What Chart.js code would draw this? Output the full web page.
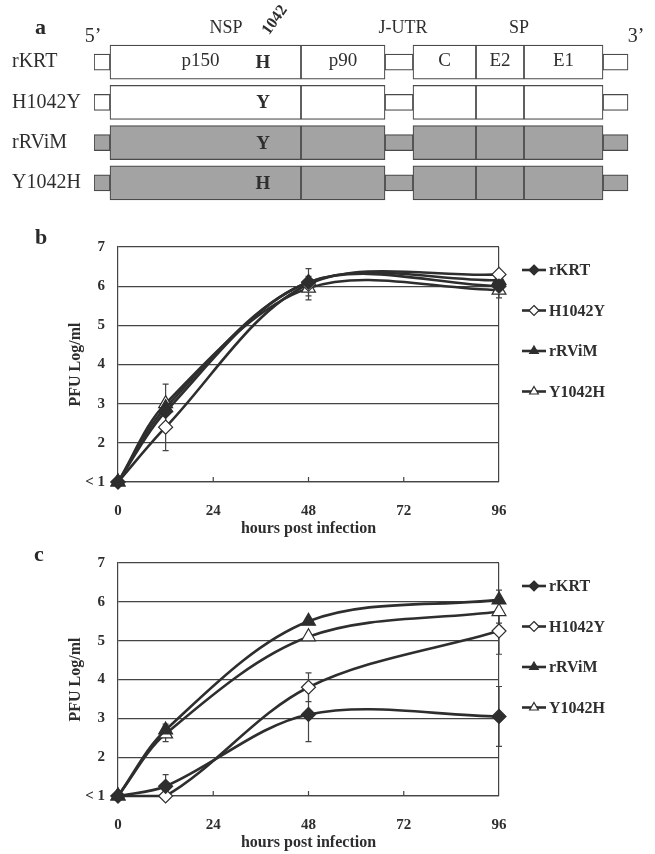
<!DOCTYPE html>
<html>
<head>
<meta charset="utf-8">
<script src="https://cdn.jsdelivr.net/npm/chart.js@4.4.1/dist/chart.umd.min.js"></script>
<style>
  html, body { margin: 0; padding: 0; background: #fff; }
  #page { position: relative; width: 655px; height: 854px; overflow: hidden;
          font-family: 'Liberation Serif', 'DejaVu Serif', serif; color: #2a2a2a; }
  .panel { position: absolute; left: 0; width: 655px; }
  .tag { position: absolute; font-weight: bold; font-size: 22px; line-height: 1; }
</style>
</head>
<body>
<div id="page">
  <div class="panel" style="top:0;height:215px"><canvas id="chart-map"></canvas></div>
  <div class="panel" style="top:225px;height:315px"><canvas id="chart-b"></canvas></div>
  <div class="panel" style="top:541px;height:313px"><canvas id="chart-c"></canvas></div>
  <div class="tag" style="left:35px;top:16px">a</div>
  <div class="tag" style="left:35px;top:226px">b</div>
  <div class="tag" style="left:34px;top:543px">c</div>
</div>

<script>
// ---- panel a: genome map (diagram units) ----
const rows = ['rKRT', 'H1042Y', 'rRViM', 'Y1042H'];
const residue1042 = ['H', 'Y', 'Y', 'H'];
const rowShaded = [false, false, true, true];
const segNames = ['5\u2019 UTR', 'p150', 'p90', 'J-UTR', 'C', 'E2', 'E1', '3\u2019 UTR'];
const segStart = [0, 16, 207, 291, 319, 382, 430, 509];
const segEnd = [16, 207, 291, 319, 382, 430, 509, 534];
const segIsUtr = [true, false, false, true, false, false, false, true];
const segText = ['', 'p150', 'p90', '', 'C', 'E2', 'E1', ''];
const regionText = ['5\u2019', 'NSP', 'J-UTR', 'SP', '3\u2019'];
const regionAt = [-1, 132, 309, 425, 542];
const site1042 = 169;

// ---- panels b and c: growth curves ----
const hours = [0, 12, 48, 96];
const hourTicks = [0, 24, 48, 72, 96];
const strains = ['rKRT', 'H1042Y', 'rRViM', 'Y1042H'];

const bKRT = [1, 2.8, 6.1, 6.0];
const bH1042Y = [1, 2.4, 6.05, 6.3];
const bRViM = [1, 2.9, 6.1, 6.15];
const bY1042H = [1, 3.0, 5.95, 5.9];
const bKRTErr = [0, 0, 0.35, 0];
const bH1042YErr = [0, 0.6, 0, 0];
const bRViMErr = [0, 0, 0, 0];
const bY1042HErr = [0, 0.5, 0.3, 0.2];

const cKRT = [1, 1.25, 3.1, 3.05];
const cH1042Y = [1, 1.0, 3.8, 5.25];
const cRViM = [1, 2.7, 5.5, 6.05];
const cY1042H = [1, 2.6, 5.1, 5.75];
const cKRTErr = [0, 0.3, 0.7, 0.77];
const cH1042YErr = [0, 0, 0.37, 0.6];
const cRViMErr = [0, 0.15, 0, 0.25];
const cY1042HErr = [0, 0.2, 0, 0.3];

const ink = '#2e2e2e';
const serif = "'Liberation Serif', 'DejaVu Serif', serif";
const markerStyle = ['rectRot', 'rectRot', 'triangle', 'triangle'];
const markerFilled = [true, false, true, false];
const markerRadius = [7, 7, 8, 8];

// text drawn on top of the genome map
const mapText = {
  id: 'mapText',
  afterDatasetsDraw(chart) {
    const { ctx, chartArea } = chart;
    const x = chart.scales.x, y = chart.scales.y;
    ctx.save();
    ctx.fillStyle = ink;
    ctx.textAlign = 'center';
    ctx.textBaseline = 'middle';
    ctx.font = '19px ' + serif;
    segText.forEach((t, k) => {
      if (!t) return;
      let cx = x.getPixelForValue((segStart[k] + segEnd[k]) / 2);
      if (k === 1) cx -= 5;
      ctx.fillText(t, cx, y.getPixelForValue(0) - 1);
    });
    ctx.font = 'bold 19px ' + serif;
    residue1042.forEach((r, i) => {
      ctx.fillText(r, x.getPixelForValue(site1042), y.getPixelForValue(i) + 1);
    });
    regionText.forEach((t, k) => {
      const end = t.indexOf('\u2019') >= 0;   // 5' / 3' sit a bit lower
      ctx.font = (end ? '20px ' : '18px ') + serif;
      ctx.fillText(t, x.getPixelForValue(regionAt[k]), chartArea.top - (end ? 5 : 14));
    });
    ctx.translate(x.getPixelForValue(site1042) + 12, chartArea.top - 22);
    ctx.rotate(-0.95);
    ctx.font = 'bold 16px ' + serif;
    ctx.fillText('1042', 0, 0);
    ctx.restore();
  }
};

new Chart(document.getElementById('chart-map'), {
  type: 'bar',
  data: {
    labels: rows,
    datasets: segNames.map((name, k) => ({
      label: name,
      data: rows.map(() => [segStart[k], segEnd[k]]),
      backgroundColor: rowShaded.map(s => (s ? '#a3a3a3' : '#ffffff')),
      borderColor: '#4a4a4a',
      borderWidth: 1.2,
      borderSkipped: false,
      barThickness: segIsUtr[k] ? 16 : 34,
      grouped: false
    }))
  },
  options: {
    indexAxis: 'y',
    responsive: true,
    maintainAspectRatio: false,
    animation: false,
    events: [],
    layout: { padding: { left: 12, right: 16, top: 42, bottom: 5 } },
    plugins: { legend: { display: false }, tooltip: { enabled: false } },
    scales: {
      x: { type: 'linear', min: 0, max: 545, display: false },
      y: {
        type: 'category',
        grid: { display: false },
        border: { display: false },
        ticks: { color: ink, font: { family: serif, size: 20 }, crossAlign: 'far', padding: 0 },
        afterFit: s => { s.width = 82; }
      }
    }
  },
  plugins: [mapText]
});

// vertical error bars with caps, read from dataset.errors
const errorBars = {
  id: 'errorBars',
  beforeDatasetsDraw(chart) {
    const { ctx } = chart;
    const x = chart.scales.x, y = chart.scales.y;
    ctx.save();
    ctx.strokeStyle = '#444';
    ctx.lineWidth = 1.2;
    chart.data.datasets.forEach(ds => {
      ds.data.forEach((p, i) => {
        const e = ds.errors[i];
        if (!e) return;
        const px = x.getPixelForValue(p.x);
        const t = y.getPixelForValue(p.y + e), b = y.getPixelForValue(p.y - e);
        ctx.beginPath();
        ctx.moveTo(px, t); ctx.lineTo(px, b);
        ctx.moveTo(px - 3, t); ctx.lineTo(px + 3, t);
        ctx.moveTo(px - 3, b); ctx.lineTo(px + 3, b);
        ctx.stroke();
      });
    });
    ctx.restore();
  }
};

// short inward tick marks on the x axis
const innerTicks = {
  id: 'innerTicks',
  afterDraw(chart) {
    const { ctx, chartArea } = chart;
    const x = chart.scales.x;
    ctx.save();
    ctx.strokeStyle = '#444';
    ctx.lineWidth = 1.2;
    x.ticks.forEach(t => {
      if (t.value === x.min || t.value === x.max) return;
      const px = x.getPixelForValue(t.value);
      ctx.beginPath();
      ctx.moveTo(px, chartArea.bottom);
      ctx.lineTo(px, chartArea.bottom - 5);
      ctx.stroke();
    });
    ctx.restore();
  }
};

function drawMarker(ctx, style, cx, cy, r) {
  ctx.beginPath();
  if (style === 'triangle') {
    ctx.moveTo(cx, cy - r);
    ctx.lineTo(cx + r * 0.87, cy + r * 0.5);
    ctx.lineTo(cx - r * 0.87, cy + r * 0.5);
  } else {
    ctx.moveTo(cx, cy - r);
    ctx.lineTo(cx + r, cy);
    ctx.lineTo(cx, cy + r);
    ctx.lineTo(cx - r, cy);
  }
  ctx.closePath();
  ctx.fill();
  ctx.stroke();
}

// legend to the right: line segment, marker, label
const sideLegend = {
  id: 'sideLegend',
  afterDraw(chart) {
    const { ctx, chartArea } = chart;
    ctx.save();
    chart.data.datasets.forEach((ds, i) => {
      const ly = chartArea.top + 23 + i * 40.5;
      const x0 = chartArea.right + 23;
      ctx.strokeStyle = ink;
      ctx.lineWidth = 2.6;
      ctx.beginPath();
      ctx.moveTo(x0, ly); ctx.lineTo(x0 + 24, ly);
      ctx.stroke();
      ctx.lineWidth = 1.2;
      ctx.fillStyle = ds.pointBackgroundColor;
      drawMarker(ctx, ds.pointStyle, x0 + 12, ly, 5);
      ctx.fillStyle = ink;
      ctx.font = 'bold 16px ' + serif;
      ctx.textAlign = 'left';
      ctx.textBaseline = 'middle';
      ctx.fillText(ds.label, x0 + 27, ly + 1);
    });
    ctx.restore();
  }
};

function growthChart(id, titers, errs) {
  const tickFont = { family: serif, size: 15, weight: 'bold' };
  return new Chart(document.getElementById(id), {
    type: 'line',
    data: {
      datasets: strains.map((name, i) => ({
        label: name,
        data: hours.map((h, j) => ({ x: h, y: titers[i][j] })),
        errors: errs[i],
        borderColor: ink,
        borderWidth: 2.6,
        tension: 0.33,
        fill: false,
        clip: false,
        pointStyle: markerStyle[i],
        pointRadius: markerRadius[i],
        pointBorderWidth: 1.2,
        pointBorderColor: ink,
        pointBackgroundColor: markerFilled[i] ? ink : '#ffffff'
      }))
    },
    options: {
      responsive: true,
      maintainAspectRatio: false,
      animation: false,
      events: [],
      layout: { padding: { left: 0, right: 156, top: 15, bottom: 0 } },
      plugins: { legend: { display: false }, tooltip: { enabled: false } },
      scales: {
        x: {
          type: 'linear', min: 0, max: 96,
          afterBuildTicks: s => { s.ticks = hourTicks.map(v => ({ value: v })); },
          ticks: { color: ink, font: tickFont, padding: 20 },
          grid: {
            drawTicks: false,
            lineWidth: 1.2,
            color: c => (c.tick && c.tick.value === 96 ? '#444' : 'rgba(0,0,0,0)')
          },
          border: { color: '#444', width: 1.2 },
          title: { display: true, text: 'hours post infection', color: ink,
                   font: { family: serif, size: 16, weight: 'bold' }, padding: { top: 0, bottom: 2 } },
          afterFit: s => { s.height = 58; }
        },
        y: {
          min: 1, max: 7,
          ticks: { stepSize: 1, color: ink, font: tickFont, padding: 13,
                   callback: v => (v === 1 ? '< 1' : v) },
          grid: { drawTicks: false, color: '#444', lineWidth: 1.2 },
          border: { color: '#444', width: 1.2 },
          title: { display: true, text: 'PFU Log/ml', color: ink,
                   font: { family: serif, size: 16, weight: 'bold' }, padding: { top: 66, bottom: 0 } },
          afterFit: s => { s.width = 118; }
        }
      }
    },
    plugins: [errorBars, innerTicks, sideLegend]
  });
}

growthChart('chart-b',
  [bKRT, bH1042Y, bRViM, bY1042H],
  [bKRTErr, bH1042YErr, bRViMErr, bY1042HErr]);
growthChart('chart-c',
  [cKRT, cH1042Y, cRViM, cY1042H],
  [cKRTErr, cH1042YErr, cRViMErr, cY1042HErr]);
</script>
</body>
</html>
